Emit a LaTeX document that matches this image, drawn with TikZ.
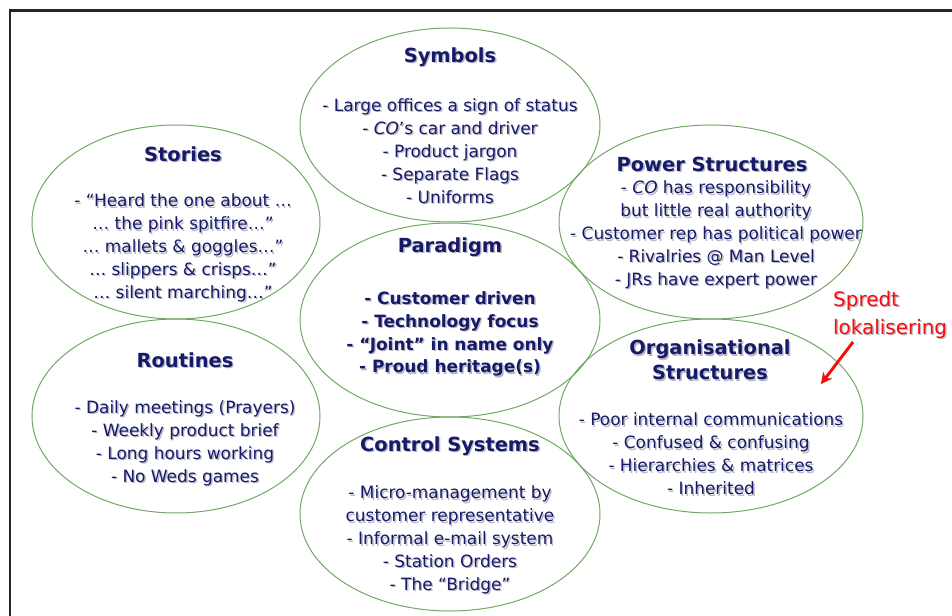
\documentclass[tikz,border=0pt]{standalone}
\usepackage{fontspec}
\setmainfont{DejaVu Sans}
\usetikzlibrary{shapes.geometric,arrows.meta}

\definecolor{ink}{RGB}{22,26,104}
\definecolor{rim}{RGB}{112,168,100}
\definecolor{shade}{RGB}{185,185,198}
\definecolor{alert}{RGB}{250,10,10}

% text with a soft drop shadow: name, position, style, content
\newcommand\blurb[4]{%
  \node[#3, text=shade, xshift=1.4bp, yshift=-1.4bp] (#1-sh) at (#2) {#4};
  \node[#3] (#1) at (#2) {#4};}

\tikzset{
  cell/.style={ellipse, draw=rim, line width=1bp, inner sep=0pt,
               minimum width=#1, minimum height=194bp},
  cell/.default=300bp,
  title/.style={font=\fontsize{19.5}{25}\selectfont\bfseries, text=ink, align=center, inner sep=0pt},
  body/.style={font=\fontsize{17}{23}\selectfont, text=ink, align=center, inner sep=0pt},
  bodyb/.style={body, font=\fontsize{17}{23}\selectfont\bfseries},
  note/.style={font=\fontsize{20}{28}\selectfont, text=alert, align=left, inner sep=0pt},
  pointer/.style={alert, line width=2.8bp, -{Stealth[length=11bp,width=11bp]}},
}

\begin{document}
\begin{tikzpicture}[x=1bp, y=-1bp]
  \useasboundingbox (0,0) rectangle (952,616);

  % slide frame
  \draw[line width=2.2bp, black!85] (10,616) -- (10,10.5) -- (952,10.5);

  % the seven ellipses of the web
  \node[cell] (symE) at (450,125) {};
  \node[cell=288bp] (stoE) at (176,222) {};
  \node[cell=304bp] (powE) at (711,222) {};
  \node[cell] (parE) at (450,320) {};
  \node[cell=288bp] (rouE) at (176,416) {};
  \node[cell=304bp] (orgE) at (711,416) {};
  \node[cell] (conE) at (450,514) {};

  % Symbols
  \blurb{symT}{450,57}{title}{Symbols}
  \blurb{symB}{450,151}{body}{- Large offices a sign of status\\- \textit{CO}’s car and driver\\- Product jargon\\- Separate Flags\\- Uniforms}

  % Stories
  \blurb{stoT}{183,154}{title}{Stories}
  \blurb{stoB}{183,248}{body}{- “Heard the one about …\\… the pink spitfire…”\\… mallets \& goggles…”\\… slippers \& crisps…”\\… silent marching…”}

  % Power Structures
  \blurb{powT}{712,164}{title}{Power Structures}
  \blurb{powB}{716,235}{body}{- \textit{CO} has responsibility\\but little real authority\\- Customer rep has political power\\- Rivalries @ Man Level\\- JRs have expert power}

  % Paradigm
  \blurb{parT}{450,247}{title}{Paradigm}
  \blurb{parB}{450,334}{bodyb}{- Customer driven\\- Technology focus\\- “Joint” in name only\\- Proud heritage(s)}

  % Routines
  \blurb{rouT}{185,360}{title}{Routines}
  \blurb{rouB}{185,443}{body}{- Daily meetings (Prayers)\\- Weekly product brief\\- Long hours working\\- No Weds games}

  % Organisational Structures
  \blurb{orgT}{710,360}{title}{Organisational\\Structures}
  \blurb{orgB}{711,454}{body}{- Poor internal communications\\- Confused \& confusing\\- Hierarchies \& matrices\\- Inherited}

  % Control Systems
  \blurb{conT}{450,446}{title}{Control Systems}
  \blurb{conB}{450,540}{body}{- Micro-management by\\customer representative\\- Informal e-mail system\\- Station Orders\\- The “Bridge”}

  % annotation
  \blurb{note}{833,315}{note, anchor=west}{Spredt\\lokalisering}
  \coordinate (noteTail) at (853,342);
  \coordinate (noteHead) at (821,384);
  \draw[pointer, draw=shade, fill=shade, xshift=1.4bp, yshift=-1.4bp] (noteTail) -- (noteHead);
  \draw[pointer] (noteTail) -- (noteHead);
\end{tikzpicture}
\end{document}
